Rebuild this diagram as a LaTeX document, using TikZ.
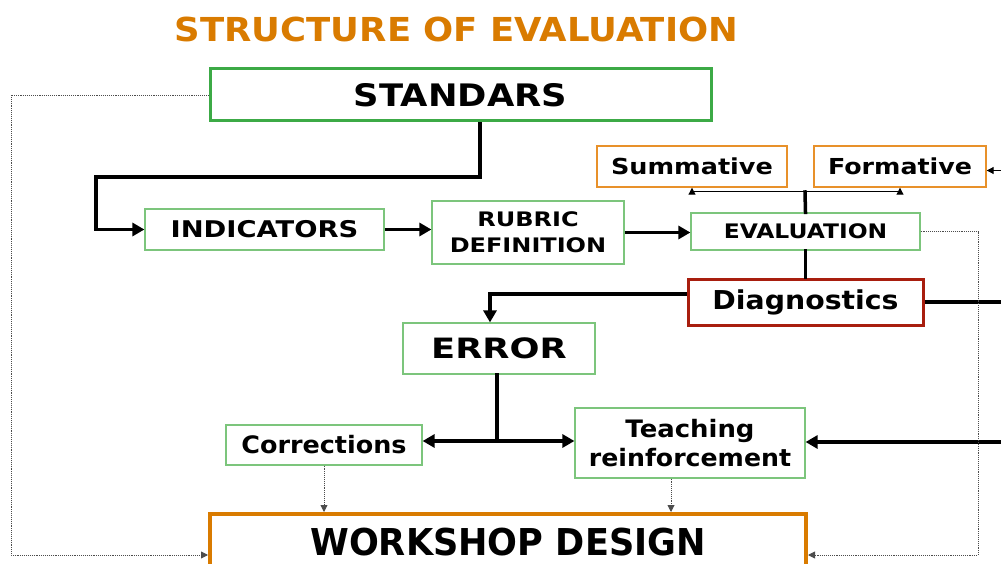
\documentclass[tikz,border=0pt]{standalone}
\usepackage{fontspec}
\usepackage{graphicx}
\setmainfont{DejaVu Sans}
\usetikzlibrary{arrows.meta,calc}
\definecolor{ttl}{HTML}{D97B00}
\definecolor{stdgreen}{HTML}{3CAA46}
\definecolor{lgreen}{HTML}{7CC57C}
\definecolor{lorange}{HTML}{E8912A}
\definecolor{dred}{HTML}{A81E0E}
\newcommand{\hs}[2]{\scalebox{#1}[1]{#2}}
\tikzset{
  box/.style={draw=lgreen, line width=1.2pt, fill=white, inner sep=0pt, align=center, font=\bfseries},
  obox/.style={draw=lorange, line width=1.4pt, fill=white, inner sep=0pt, align=center, font=\bfseries},
  thk/.style={line width=3.5pt, line cap=rect},
  thkarr/.style={line width=3.5pt, -{Triangle[length=12pt,width=13pt]}},
  tinarr/.style={line width=1pt, -{Triangle[length=7pt,width=7pt]}},
  dotarr/.style={line width=0.9pt, black!70, densely dotted, -{Triangle[length=7pt,width=7pt]}},
}
\begin{document}
\begin{tikzpicture}[x=1pt,y=-1pt]
\useasboundingbox (0,0) rectangle (1001,564);
\clip (0,0) rectangle (1001,564);
% title
\node[text=ttl, font=\fontsize{33}{33}\selectfont\bfseries] (title) at (456.5,29) {\hs{1.075}{STRUCTURE OF EVALUATION}};
% boxes
\node[box, draw=stdgreen, line width=3pt, minimum width=501pt, minimum height=52pt, font=\fontsize{31}{31}\selectfont\bfseries] (std) at (460.5,95) {\hs{1.14}{STANDARS}};
\node[box, minimum width=239pt, minimum height=41pt, font=\fontsize{23}{23}\selectfont\bfseries] (ind) at (264.5,229.5) {\hs{1.19}{INDICATORS}};
\node[box, minimum width=192pt, minimum height=63pt, font=\fontsize{20}{26}\selectfont\bfseries] (rub) at (528,232.5) {\hs{1.2}{RUBRIC}\\\hs{1.2}{DEFINITION}};
\node[box, minimum width=229pt, minimum height=37pt, font=\fontsize{20}{20}\selectfont\bfseries] (eval) at (805.5,231.5) {\hs{1.17}{EVALUATION}};
\node[obox, minimum width=190pt, minimum height=41pt, font=\fontsize{22}{22}\selectfont\bfseries] (sum) at (692,166.5) {\hs{1.16}{Summative}};
\node[obox, minimum width=172pt, minimum height=41pt, font=\fontsize{22}{22}\selectfont\bfseries] (form) at (900,166.5) {\hs{1.15}{Formative}};
\node[box, draw=dred, line width=3pt, minimum width=235pt, minimum height=46pt, font=\fontsize{26}{26}\selectfont\bfseries] (diag) at (805.5,302) {\hs{1.09}{Diagnostics}};
\node[box, minimum width=192pt, minimum height=51pt, font=\fontsize{28}{28}\selectfont\bfseries] (err) at (499,348.5) {\hs{1.26}{ERROR}};
\node[box, minimum width=196pt, minimum height=40pt, font=\fontsize{24}{24}\selectfont\bfseries] (cor) at (324,445) {\hs{1.06}{Corrections}};
\node[box, minimum width=230pt, minimum height=70pt, font=\fontsize{24}{29}\selectfont\bfseries] (teach) at (690,443) {\hs{1.08}{Teaching}\\\hs{1.05}{reinforcement}};
\node[box, draw=ttl, line width=4pt, minimum width=596pt, minimum height=56pt, font=\fontsize{37}{37}\selectfont\bfseries, text depth=0pt] (ws) at (508,542) {\hs{0.95}{WORKSHOP DESIGN}};
% coordinates
\coordinate (split) at (805,192);
\coordinate (j) at (497,441);
\coordinate (ts) at ($(teach.south)+(-19,0)$);
% thick connectors
\draw[thkarr] ($(std.south)+(19.5,0)$) -- (480,177) -- (96,177) |- (ind.west);
\draw[thkarr] (ind.east) -- (rub.west |- ind.east);
\draw[thkarr] (rub.east) -- (eval.west |- rub.east);
\draw[thk] (eval.north) -- (split);
\draw[tinarr] (split) -| (sum.south);
\draw[tinarr] (split) -| (form.south);
\draw[thk] (eval.south) -- (diag.north);
\draw[thkarr] ($(diag.west)+(0,-8)$) -| ($(err.north)+(-9,0)$);
\draw[thkarr] (diag.east) -- (1015,302) -- (1015,442) -- (teach.east |- 0,442);
\draw[thk] ($(err.south)+(-2,0)$) -- (j);
\draw[thkarr] (j) -- (cor.east |- j);
\draw[thkarr] (j) -- (teach.west |- j);
\draw[tinarr] ($(form.east)+(16,4)$) -- ($(form.east)+(0,4)$);
% dotted connectors
\draw[dotarr] (cor.south) -- (cor.south |- ws.north);
\draw[dotarr] (ts) -- (ts |- ws.north);
\draw[dotarr] (std.west) -- (11,95) -- (11,555) -- (ws.west |- 0,555);
\draw[dotarr] (eval.east) -- (978,231.5) -- (978,555) -- (ws.east |- 0,555);
\end{tikzpicture}
\end{document}
